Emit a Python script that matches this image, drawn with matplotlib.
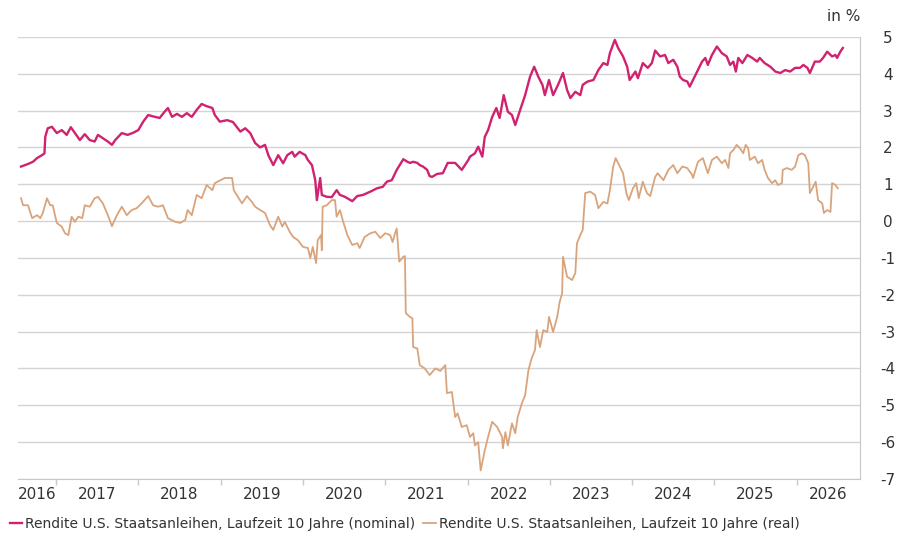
import matplotlib
matplotlib.use('agg')
import matplotlib.pyplot as plt

# Zeitachse in Dezimaljahren, Werte in %
nominal_t = [2016.575, 2016.66, 2016.72, 2016.77, 2016.83, 2016.86, 2016.87, 2016.90, 2016.95,
             2017.01, 2017.07, 2017.13, 2017.18, 2017.23, 2017.29, 2017.35, 2017.41, 2017.47,
             2017.51, 2017.57, 2017.63, 2017.68, 2017.72, 2017.80, 2017.87, 2017.94, 2018.00,
             2018.06, 2018.12, 2018.20, 2018.26, 2018.32, 2018.36, 2018.41, 2018.47, 2018.53,
             2018.59, 2018.65, 2018.71, 2018.77, 2018.83, 2018.90, 2018.93, 2018.99, 2019.08,
             2019.15, 2019.24, 2019.30, 2019.36, 2019.42, 2019.48, 2019.54, 2019.58, 2019.64,
             2019.70, 2019.76, 2019.81, 2019.87, 2019.90, 2019.96, 2020.03, 2020.06, 2020.11,
             2020.15, 2020.17, 2020.21, 2020.23, 2020.29, 2020.35, 2020.41, 2020.45, 2020.51,
             2020.60, 2020.66, 2020.73, 2020.82, 2020.90, 2020.97, 2021.02, 2021.08, 2021.14,
             2021.22, 2021.27, 2021.30, 2021.34, 2021.39, 2021.42, 2021.46, 2021.51, 2021.54,
             2021.57, 2021.63, 2021.70, 2021.76, 2021.85, 2021.93, 2022.01, 2022.03, 2022.09,
             2022.13, 2022.18, 2022.21, 2022.25, 2022.30, 2022.35, 2022.39, 2022.44, 2022.49,
             2022.54, 2022.58, 2022.64, 2022.70, 2022.76, 2022.81, 2022.86, 2022.91, 2022.94,
             2022.99, 2023.04, 2023.10, 2023.16, 2023.21, 2023.25, 2023.31, 2023.37, 2023.40,
             2023.46, 2023.53, 2023.59, 2023.65, 2023.70, 2023.73, 2023.79, 2023.83, 2023.89,
             2023.94, 2023.97, 2024.04, 2024.07, 2024.13, 2024.19, 2024.24, 2024.28, 2024.34,
             2024.40, 2024.44, 2024.50, 2024.55, 2024.58, 2024.62, 2024.67, 2024.70, 2024.74,
             2024.79, 2024.85, 2024.89, 2024.92, 2024.97, 2025.03, 2025.09, 2025.15, 2025.19,
             2025.23, 2025.26, 2025.29, 2025.34, 2025.40, 2025.46, 2025.52, 2025.55, 2025.61,
             2025.68, 2025.74, 2025.80, 2025.86, 2025.92, 2025.98, 2026.04, 2026.08, 2026.13,
             2026.16, 2026.22, 2026.28, 2026.32, 2026.37, 2026.43, 2026.47, 2026.49, 2026.53,
             2026.56]
nominal = [1.48, 1.55, 1.61, 1.71, 1.79, 1.84, 2.29, 2.52, 2.56,
           2.39, 2.47, 2.34, 2.55, 2.39, 2.20, 2.36, 2.20, 2.16,
           2.34, 2.25, 2.16, 2.07, 2.20, 2.39, 2.34, 2.40, 2.47,
           2.70, 2.88, 2.83, 2.80, 2.97, 3.07, 2.83, 2.91, 2.83,
           2.93, 2.83, 3.02, 3.18, 3.12, 3.07, 2.88, 2.70, 2.74,
           2.69, 2.43, 2.52, 2.39, 2.12, 2.00, 2.07, 1.79, 1.52,
           1.79, 1.57, 1.79, 1.88, 1.75, 1.88, 1.79, 1.66, 1.52,
           1.11, 0.57, 1.17, 0.71, 0.66, 0.65, 0.84, 0.71, 0.66,
           0.54, 0.68, 0.71, 0.80, 0.89, 0.93, 1.07, 1.11, 1.39,
           1.68, 1.61, 1.58, 1.61, 1.58, 1.52, 1.48, 1.39, 1.22,
           1.20, 1.28, 1.30, 1.58, 1.58, 1.39, 1.66, 1.75, 1.84,
           2.02, 1.75, 2.29, 2.47, 2.83, 3.07, 2.80, 3.42, 2.97,
           2.88, 2.61, 3.02, 3.42, 3.92, 4.19, 3.92, 3.70, 3.42,
           3.83, 3.42, 3.70, 4.02, 3.56, 3.34, 3.51, 3.42, 3.70,
           3.79, 3.83, 4.10, 4.29, 4.24, 4.56, 4.92, 4.70, 4.47,
           4.19, 3.83, 4.06, 3.88, 4.29, 4.16, 4.29, 4.63, 4.47,
           4.51, 4.29, 4.38, 4.19, 3.92, 3.83, 3.79, 3.65, 3.83,
           4.06, 4.33, 4.43, 4.24, 4.51, 4.74, 4.56, 4.47, 4.24,
           4.33, 4.06, 4.43, 4.29, 4.51, 4.43, 4.33, 4.43, 4.29,
           4.19, 4.06, 4.02, 4.10, 4.06, 4.16, 4.16, 4.24, 4.16,
           4.02, 4.33, 4.33, 4.43, 4.60, 4.47, 4.51, 4.43, 4.60,
           4.70]

real_t = [2016.575, 2016.60, 2016.66, 2016.71, 2016.77, 2016.81, 2016.84, 2016.89, 2016.93,
          2016.96, 2017.01, 2017.07, 2017.11, 2017.15, 2017.19, 2017.23, 2017.27, 2017.32,
          2017.35, 2017.41, 2017.47, 2017.51, 2017.57, 2017.63, 2017.68, 2017.74, 2017.80,
          2017.86, 2017.92, 2017.98, 2018.04, 2018.12, 2018.18, 2018.24, 2018.30, 2018.36,
          2018.45, 2018.51, 2018.57, 2018.60, 2018.65, 2018.71, 2018.77, 2018.83, 2018.90,
          2018.93, 2018.99, 2019.05, 2019.14, 2019.16, 2019.21, 2019.26, 2019.32, 2019.38,
          2019.42, 2019.48, 2019.54, 2019.60, 2019.64, 2019.70, 2019.75, 2019.78, 2019.84,
          2019.88, 2019.94, 2020.00, 2020.06, 2020.09, 2020.12, 2020.16, 2020.18, 2020.22,
          2020.23, 2020.24, 2020.29, 2020.35, 2020.39, 2020.41, 2020.45, 2020.49, 2020.54,
          2020.60, 2020.66, 2020.69, 2020.75, 2020.82, 2020.88, 2020.94, 2021.00, 2021.06,
          2021.09, 2021.12, 2021.14, 2021.17, 2021.22, 2021.24, 2021.25, 2021.30, 2021.33,
          2021.34, 2021.39, 2021.42, 2021.48, 2021.54, 2021.61, 2021.67, 2021.73, 2021.75,
          2021.81, 2021.85, 2021.88, 2021.93, 2021.99, 2022.03, 2022.07, 2022.09, 2022.13,
          2022.16, 2022.21, 2022.25, 2022.30, 2022.36, 2022.42, 2022.43, 2022.46, 2022.49,
          2022.54, 2022.58, 2022.61, 2022.66, 2022.70, 2022.74, 2022.78, 2022.82, 2022.84,
          2022.88, 2022.92, 2022.97, 2022.99, 2023.04, 2023.09, 2023.12, 2023.15, 2023.16,
          2023.21, 2023.27, 2023.31, 2023.33, 2023.37, 2023.40, 2023.43, 2023.49, 2023.55,
          2023.59, 2023.65, 2023.70, 2023.73, 2023.77, 2023.80, 2023.85, 2023.89, 2023.93,
          2023.96, 2024.01, 2024.05, 2024.08, 2024.13, 2024.18, 2024.22, 2024.28, 2024.31,
          2024.38, 2024.44, 2024.50, 2024.55, 2024.61, 2024.67, 2024.73, 2024.74, 2024.80,
          2024.86, 2024.92, 2024.97, 2025.03, 2025.09, 2025.13, 2025.17, 2025.19, 2025.23,
          2025.27, 2025.31, 2025.35, 2025.38, 2025.41, 2025.43, 2025.49, 2025.53, 2025.58,
          2025.61, 2025.65, 2025.70, 2025.74, 2025.77, 2025.82, 2025.83, 2025.88, 2025.94,
          2025.98, 2026.02, 2026.06, 2026.10, 2026.14, 2026.16, 2026.20, 2026.23, 2026.26,
          2026.31, 2026.33, 2026.37, 2026.41, 2026.43, 2026.47, 2026.50]
real = [0.62, 0.43, 0.43, 0.08, 0.16, 0.08, 0.22, 0.62, 0.43,
        0.43, -0.05, -0.15, -0.33, -0.38, 0.12, -0.02, 0.12, 0.08,
        0.43, 0.39, 0.62, 0.66, 0.48, 0.16, -0.14, 0.16, 0.39,
        0.16, 0.30, 0.35, 0.48, 0.68, 0.43, 0.39, 0.43, 0.08,
        -0.02, -0.05, 0.03, 0.30, 0.16, 0.71, 0.62, 0.98, 0.84,
        1.03, 1.10, 1.17, 1.17, 0.84, 0.66, 0.48, 0.68, 0.52,
        0.39, 0.30, 0.22, -0.11, -0.24, 0.12, -0.15, -0.02, -0.29,
        -0.43, -0.52, -0.70, -0.73, -1.00, -0.70, -1.14, -0.52, -0.38,
        -0.79, 0.39, 0.43, 0.57, 0.57, 0.12, 0.30, -0.02, -0.38,
        -0.65, -0.60, -0.73, -0.43, -0.33, -0.29, -0.46, -0.33, -0.38,
        -0.57, -0.33, -0.20, -1.10, -0.97, -0.95, -2.50, -2.60, -2.64,
        -3.42, -3.46, -3.91, -4.00, -4.18, -4.00, -4.07, -3.91, -4.67,
        -4.64, -5.32, -5.22, -5.59, -5.54, -5.86, -5.76, -6.09, -6.00,
        -6.77, -6.22, -5.86, -5.45, -5.59, -5.86, -6.17, -5.73, -6.09,
        -5.49, -5.76, -5.32, -4.95, -4.73, -4.05, -3.72, -3.50, -2.96,
        -3.42, -2.96, -3.01, -2.60, -3.01, -2.60, -2.19, -1.96, -0.97,
        -1.51, -1.60, -1.41, -0.60, -0.38, -0.24, 0.76, 0.80, 0.71,
        0.35, 0.52, 0.48, 0.84, 1.48, 1.71, 1.48, 1.30, 0.76,
        0.57, 0.89, 1.03, 0.62, 1.07, 0.76, 0.68, 1.20, 1.30,
        1.11, 1.39, 1.52, 1.30, 1.48, 1.44, 1.25, 1.17, 1.61,
        1.71, 1.30, 1.66, 1.75, 1.57, 1.66, 1.44, 1.84, 1.93,
        2.07, 1.98, 1.84, 2.07, 1.98, 1.66, 1.75, 1.57, 1.66,
        1.39, 1.17, 1.03, 1.11, 0.98, 1.03, 1.39, 1.44, 1.39,
        1.48, 1.79, 1.84, 1.79, 1.57, 0.76, 0.93, 1.07, 0.57,
        0.48, 0.22, 0.30, 0.25, 1.03, 0.98, 0.89]

years = list(range(2016, 2027))
y_ticks = list(range(-7, 6))
x_left, x_right = 2016.538, 2026.769

FONT = 'DejaVu Sans'
TEXT = '#333333'
NOM_COLOR = '#D0226F'
REAL_COLOR = '#D9A47C'

plt.rcParams['font.family'] = [FONT]

fig = plt.figure(figsize=(8.98, 5.43), dpi=100)
ax = fig.add_axes([0.020, 0.118, 0.9377, 0.814])

ax.plot(nominal_t, nominal, color=NOM_COLOR, lw=1.7, zorder=3,
        label='Rendite U.S. Staatsanleihen, Laufzeit 10 Jahre (nominal)')
ax.plot(real_t, real, color=REAL_COLOR, lw=1.3, zorder=3,
        label='Rendite U.S. Staatsanleihen, Laufzeit 10 Jahre (real)')

ax.set_xlim(x_left, x_right)
ax.set_ylim(-7, 5)

# y-Achse rechts
ax.yaxis.tick_right()
ax.set_yticks(y_ticks)
ax.set_yticklabels([str(v) for v in y_ticks], ha='center')
ax.tick_params(axis='y', length=0, pad=20, labelsize=11, labelcolor=TEXT)
ax.grid(axis='y', color='#D4D4D4', lw=1)

# Jahresgrenzen als Ticks, Labels in der Jahresmitte
ax.set_xticks([y for y in years if x_left < y < x_right])
ax.set_xticklabels([])
ax.tick_params(axis='x', which='major', length=4, color='#C8C8C8', width=1)
label_pos = []
for y in years:
    lo = max(y, x_left)
    hi = min(y + 1, x_right)
    label_pos.append((lo + hi) / 2)
ax.set_xticks(label_pos, minor=True)
ax.set_xticklabels([str(y) for y in years], minor=True)
ax.tick_params(axis='x', which='minor', length=0, pad=6, labelsize=11, labelcolor=TEXT)

for side in ['top', 'left']:
    ax.spines[side].set_visible(False)
ax.spines['right'].set_color('#C8C8C8')
ax.spines['bottom'].set_color('#C8C8C8')

fig.text(0.958, 0.970, 'in %', ha='right', va='center', fontsize=11, color=TEXT)

fig.legend(loc='lower left', bbox_to_anchor=(0.0, 0.005), ncol=2, frameon=False,
           fontsize=10, handlelength=0.9, handletextpad=0.2, columnspacing=0.6,
           labelcolor=TEXT, borderaxespad=0.3)

fig.savefig('out.png', dpi=100)
